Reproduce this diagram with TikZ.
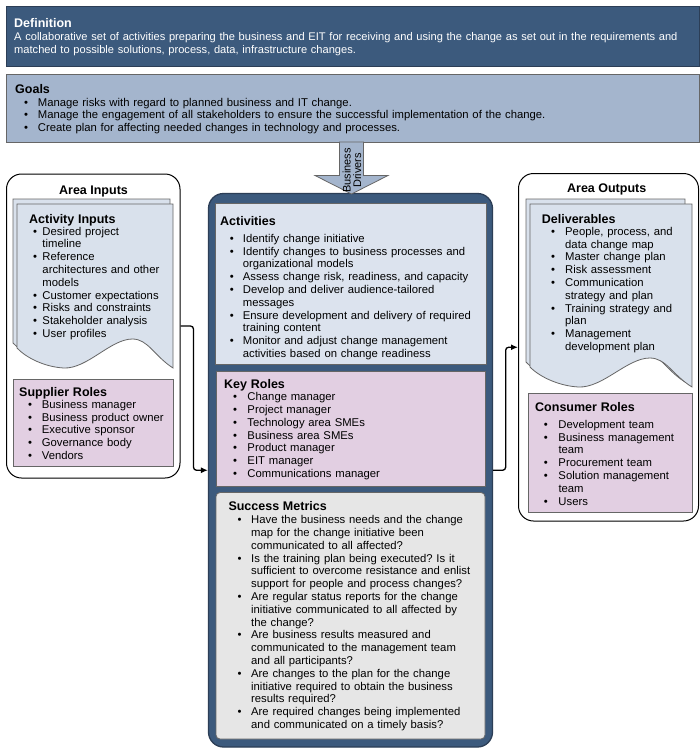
\documentclass[tikz,border=0pt]{standalone}
\usepackage{fontspec}
\setmainfont{Liberation Sans}
\usetikzlibrary{fit,arrows.meta}
\definecolor{defblue}{HTML}{3C5A7D}
\definecolor{defline}{HTML}{2C3E56}
\definecolor{goalblue}{HTML}{A4B5CD}
\definecolor{actfill}{HTML}{DCE3EE}
\definecolor{docfill}{HTML}{D9E1EC}
\definecolor{lav}{HTML}{E2CFE2}
\definecolor{metfill}{HTML}{E6E6E6}
\definecolor{boxline}{HTML}{666666}
\frenchspacing
\newlength\bo \newlength\bx
\newcommand\itm[1]{\par\hangindent=\bx\hangafter=1\noindent\rlap{\hspace{\bo}\textbullet}\hspace{\bx}#1}
\newcommand\hdr[1]{{\fontsize{12.5}{12.8}\selectfont\bfseries #1}}
\newcommand\docshape[5]{%
 \draw[#1] (#2,#3) -- ({#2+#4},#3) -- ({#2+#4},#5)
   .. controls ({#2+0.88*#4},{#5-12}) and ({#2+0.84*#4},{#5-29}) .. ({#2+0.74*#4},{#5-29})
   .. controls ({#2+0.6*#4},{#5-29}) and ({#2+0.45*#4},{#5+1}) .. ({#2+0.3*#4},#5)
   .. controls ({#2+0.18*#4},{#5-1}) and ({#2+0.06*#4},{#5-10}) .. (#2,{#5-20}) -- cycle;}
\tikzset{
 txt/.style={anchor=base west, inner sep=0pt, text width=#1, align=left, font=\fontsize{11.3}{12.8}\selectfont},
 panel/.style={inner sep=0pt, draw=black, line width=1pt, fill=white, rounded corners=15pt},
 plainbox/.style={inner sep=0pt, draw=boxline, line width=0.8pt},
 doc/.style={draw=boxline, line width=0.8pt, fill=docfill},
 conn/.style={draw=black, line width=1.3pt, rounded corners=3pt, -{Latex[length=7pt,width=6pt]}},
 paneltitle/.style={anchor=base, inner sep=0pt, font=\fontsize{12.5}{14}\selectfont\bfseries}
}
\begin{document}
\begin{tikzpicture}[x=1pt,y=-1pt]
\useasboundingbox[fill=white] (0,0) rectangle (700,753);
% Definition
\node[plainbox, fill=defblue, draw=defline, fit={(6,6)(699,66)}] (defbox) {};
\node[txt=690pt, text=white, font=\fontsize{11.1}{12.8}\selectfont] (deftxt) at (14,27.5) {\hdr{Definition}\par A collaborative set of activities preparing the business and EIT for receiving and using the change as set out in the requirements and\newline matched to possible solutions, process, data, infrastructure changes.\par};
% Goals
\node[plainbox, fill=goalblue, fit={(6,74.5)(699,142)}] (goalbox) {};
\node[txt=680pt] (goaltxt) at (15,93.3) {\setlength\bo{9pt}\setlength\bx{22.7pt}\hdr{Goals}%
\itm{Manage risks with regard to planned business and IT change.}%
\itm{Manage the engagement of all stakeholders to ensure the successful implementation of the change.}%
\itm{Create plan for affecting needed changes in technology and processes.}\par};
% Left panel
\node[panel, fit={(6.5,174)(180,478)}] (lp) {};
\node[paneltitle] (lptitle) at (93.5,194) {Area Inputs};
\docshape{doc}{13}{199}{157}{363}
\docshape{doc}{17}{204}{156}{368}
\node[txt=150pt] (aitxt) at (29,223.3) {\setlength\bo{4pt}\setlength\bx{13.3pt}\hdr{Activity Inputs}\par\vspace{-1.1pt}%
\itm{Desired project\newline timeline}%
\itm{Reference\newline architectures and other\newline models}%
\itm{Customer expectations}%
\itm{Risks and constraints}%
\itm{Stakeholder analysis}%
\itm{User profiles}\par};
\node[plainbox, fill=lav, fit={(13,379.5)(173,466)}] (supbox) {};
\node[txt=150pt] (suptxt) at (19,396) {\setlength\bo{9pt}\setlength\bx{22.7pt}\hdr{Supplier Roles}\par\vspace{-0.5pt}%
\itm{Business manager}%
\itm{Business product owner}%
\itm{Executive sponsor}%
\itm{Governance body}%
\itm{Vendors}\par};
% Center
\node[inner sep=0pt, fill=defblue, draw=defline, line width=1.3pt, rounded corners=15pt, fit={(208.5,193.5)(492.5,747)}] (cb) {};
\node[plainbox, fill=actfill, fit={(215,203.5)(486.5,364.5)}] (actbox) {};
\node[txt=265pt] (acttxt) at (220,225.3) {\setlength\bo{9.7pt}\setlength\bx{22.7pt}\hdr{Activities}\par\vspace{4.2pt}%
\itm{Identify change initiative}%
\itm{Identify changes to business processes and\newline organizational models}%
\itm{Assess change risk, readiness, and capacity}%
\itm{Develop and deliver audience-tailored\newline messages}%
\itm{Ensure development and delivery of required\newline training content}%
\itm{Monitor and adjust change management\newline activities based on change readiness}\par};
\node[plainbox, fill=lav, fit={(216,371)(485,486.5)}] (krbox) {};
\node[txt=260pt] (krtxt) at (224,388.7) {\setlength\bo{9pt}\setlength\bx{23.3pt}\hdr{Key Roles}\par\vspace{-0.8pt}%
\itm{Change manager}%
\itm{Project manager}%
\itm{Technology area SMEs}%
\itm{Business area SMEs}%
\itm{Product manager}%
\itm{EIT manager}%
\itm{Communications manager}\par};
\node[plainbox, fill=metfill, rounded corners=4pt, fit={(216,492.5)(485,739)}] (smbox) {};
\node[txt=255pt] (smtxt) at (228.3,510.7) {\setlength\bo{9pt}\setlength\bx{22.7pt}\hdr{Success Metrics}\par\vspace{0.2pt}%
\itm{Have the business needs and the change\newline map for the change initiative been\newline communicated to all affected?}%
\itm{Is the training plan being executed? Is it\newline sufficient to overcome resistance and enlist\newline support for people and process changes?}%
\itm{Are regular status reports for the change\newline initiative communicated to all affected by\newline the change?}%
\itm{Are business results measured and\newline communicated to the management team\newline and all participants?}%
\itm{Are changes to the plan for the change\newline initiative required to obtain the business\newline results required?}%
\itm{Are required changes being implemented\newline and communicated on a timely basis?}\par};
% Business drivers arrow
\draw[fill=goalblue, draw=boxline, line width=0.8pt] (339.5,142) -- (363.5,142) -- (363.5,175.5) -- (388,175.5) -- (351.5,194) -- (315,175.5) -- (339.5,175.5) -- cycle;
\node[rotate=90, align=center, inner sep=0pt, font=\fontsize{11}{10.6}\selectfont] (bd) at (352,170.5) {Business\\Drivers};
% Right panel
\node[panel, fit={(518.5,173.5)(698.5,521)}] (rp) {};
\node[paneltitle] (rptitle) at (606.7,192) {Area Outputs};
\docshape{doc}{526}{199}{159}{382}
\docshape{doc}{530}{204}{162}{387}
\node[txt=150pt] (deltxt) at (541.7,223.3) {\setlength\bo{9.3pt}\setlength\bx{23.3pt}\hdr{Deliverables}\par\vspace{-0.8pt}%
\itm{People, process, and\newline data change map}%
\itm{Master change plan}%
\itm{Risk assessment}%
\itm{Communication\newline strategy and plan}%
\itm{Training strategy and\newline plan}%
\itm{Management\newline development plan}\par};
\node[plainbox, fill=lav, fit={(528.5,393.5)(692.5,512.5)}] (conbox) {};
\node[txt=155pt] (contxt) at (535,411.7) {\setlength\bo{8.7pt}\setlength\bx{23.3pt}\hdr{Consumer Roles}\par\vspace{3.8pt}%
\itm{Development team}%
\itm{Business management\newline team}%
\itm{Procurement team}%
\itm{Solution management\newline team}%
\itm{Users}\par};
% Connectors
\draw[conn] (lp.east) -- ++(13,0) |- (cb.west);
\draw[conn] (cb.east) -- ++(12.5,0) |- (rp.west);
\end{tikzpicture}
\end{document}
